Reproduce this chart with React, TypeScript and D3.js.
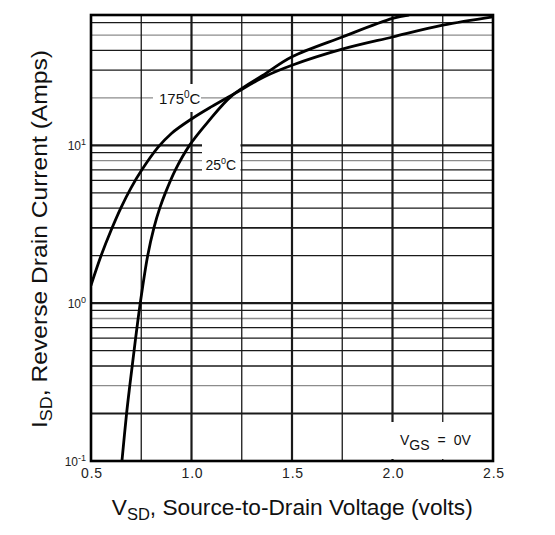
import * as d3 from 'd3';

// axis ticks
const xTicks = [0.5, 1.0, 1.5, 2.0, 2.5];
const xGrid = [0.5, 0.75, 1.0, 1.25, 1.5, 1.75, 2.0, 2.25, 2.5];
const yDecades = [0.1, 1, 10];
const yExponents = ['-1', '0', '1'];

// 175°C curve (volts, amps)
const v175 = [0.5, 0.55, 0.6, 0.65, 0.7, 0.75, 0.833, 0.9, 1.0, 1.1, 1.2, 1.37, 1.5, 1.75, 2.0, 2.25, 2.5];
const i175 = [1.3, 2.0, 2.9, 4.05, 5.4, 6.9, 9.7, 11.9, 14.7, 17.6, 20.8, 27.5, 32.2, 40.7, 48.6, 57.7, 65.2];

// 25°C curve
const v25 = [0.654, 0.677, 0.693, 0.705, 0.722, 0.745, 0.782, 0.813, 0.842, 0.87, 0.92, 0.99, 1.08, 1.2, 1.37, 1.5, 1.75, 2.0, 2.08];
const i25 = [0.1, 0.2, 0.3, 0.4, 0.6, 1, 2, 3, 4, 5, 7, 10, 14, 20.6, 28.6, 36.4, 48.6, 63.7, 67];

const W = 555;
const H = 535;
const M = { left: 91, right: 493, top: 15, bottom: 461 };

const near = (a: number, list: number[]) => list.some(b => Math.abs(a - b) < 1e-6);

export default function App() {
  const x = d3.scaleLinear().domain([0.5, 2.5]).range([M.left, M.right]);
  const y = d3.scaleLog().domain([0.1, 67]).range([M.bottom, M.top]);

  const hGrid = y.ticks().filter(v => v > 0.1 + 1e-9 && v < 67);

  // scanned sheet: some rules heavier, some faded
  const hWidth = (v: number) => (near(v, [1, 10]) ? 2.2 : near(v, [0.2, 3]) ? 1.9 : 1.3);
  const hColor = (v: number) => (near(v, [0.3, 0.8, 8, 20, 50]) ? '#8c8c8c' : '#1a1a1a');
  const vWidth = (v: number) => (near(v, [1.0, 1.5, 2.0]) ? 2.2 : 1.3);

  const line = (vs: number[], is: number[]) =>
    d3.line<number>()
      .x((_, k) => x(vs[k]))
      .y((_, k) => y(is[k]))
      .curve(d3.curveCatmullRom.alpha(0.5))(vs) ?? '';

  const font = 'Liberation Sans, Arial, sans-serif';

  return (
    <svg width={W} height={H} style={{ position: 'absolute', left: 0, top: 0, background: '#fff' }} fontFamily={font}>
      <defs>
        <clipPath id="plot">
          <rect x={M.left} y={M.top} width={M.right - M.left} height={M.bottom - M.top} />
        </clipPath>
      </defs>

      {/* grid */}
      <g>
        {hGrid.map(v => (
          <line key={`h${v}`} x1={M.left} x2={M.right} y1={y(v)} y2={y(v)}
            stroke={hColor(v)} strokeWidth={hWidth(v)} />
        ))}
        {xGrid.map(v => (
          <line key={`v${v}`} x1={x(v)} x2={x(v)} y1={M.top} y2={M.bottom}
            stroke="#1a1a1a" strokeWidth={vWidth(v)} />
        ))}
      </g>

      {/* gaps left in the rules for the labels */}
      <rect x={153} y={84} width={48} height={28} fill="#fff" />
      <rect x={202} y={139} width={38.5} height={35} fill="#fff" />
      <rect x={386} y={422} width={105} height={37} fill="#fff" />

      {/* curves */}
      <g clipPath="url(#plot)" fill="none" stroke="#000" strokeWidth={2.8} strokeLinecap="round">
        <path d={line(v175, i175)} />
        <path d={line(v25, i25)} />
      </g>

      {/* frame */}
      <rect x={M.left} y={M.top} width={M.right - M.left} height={M.bottom - M.top}
        fill="none" stroke="#000" strokeWidth={2.6} />

      {/* curve labels */}
      <text x={159} y={103.5} fontSize={15} fill="#111">
        175<tspan fontSize={10} dy={-6}>0</tspan><tspan dy={6}>C</tspan>
      </text>
      <text x={205.5} y={170} fontSize={14} fill="#111">
        25<tspan fontSize={9} dy={-6}>0</tspan><tspan dy={6}>C</tspan>
      </text>
      <text x={400} y={445} fontSize={14} fill="#111">
        V<tspan dy={5}>GS</tspan><tspan dy={-5} dx={8}>=</tspan><tspan dx={8}>0V</tspan>
      </text>

      {/* x tick labels */}
      {xTicks.map(v => (
        <text key={`xt${v}`} x={x(v) + 1} y={478} fontSize={14} letterSpacing={0.8} textAnchor="middle" fill="#222">
          {v.toFixed(1)}
        </text>
      ))}

      {/* y tick labels */}
      {yDecades.map((v, k) => (
        <text key={`yt${v}`} x={86} y={y(v) + 5} fontSize={12} textAnchor="end" fill="#222">
          10<tspan fontSize={9} dy={-5}>{yExponents[k]}</tspan>
        </text>
      ))}

      {/* axis titles */}
      <text x={292.3} y={515} fontSize={22} textAnchor="middle" textLength={361} lengthAdjust="spacingAndGlyphs" fill="#111">
        V<tspan fontSize={16} dy={5}>SD</tspan><tspan dy={-5}>, Source-to-Drain Voltage (volts)</tspan>
      </text>
      <text transform="translate(46.7,239) rotate(-90)" fontSize={22} textAnchor="middle" textLength={378} lengthAdjust="spacingAndGlyphs" fill="#111">
        I<tspan fontSize={16} dy={5}>SD</tspan><tspan dy={-5}>, Reverse Drain Current (Amps)</tspan>
      </text>
    </svg>
  );
}
